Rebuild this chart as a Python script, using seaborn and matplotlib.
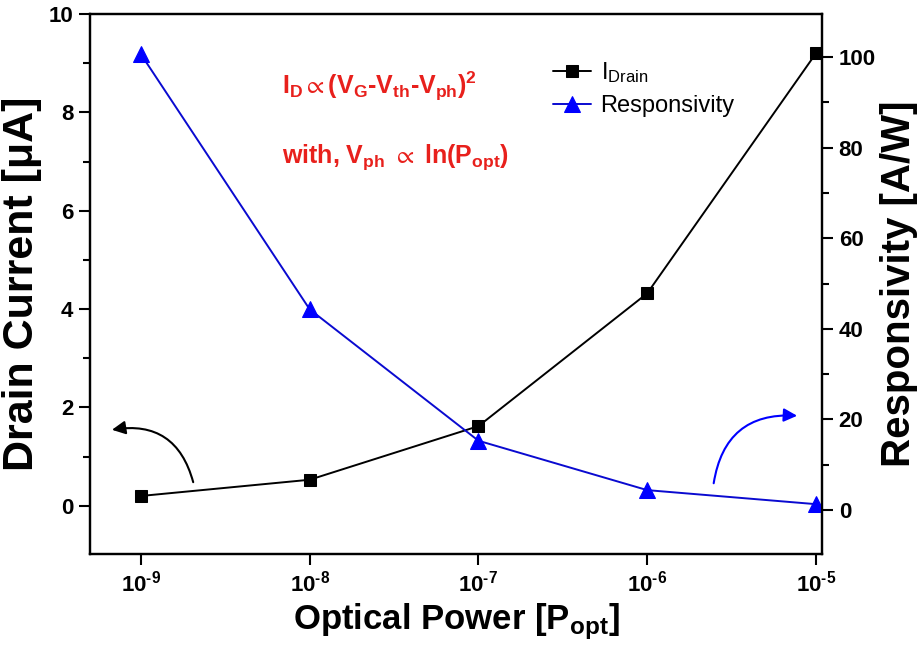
import numpy as np
import pandas as pd
import matplotlib
matplotlib.use("Agg")
import matplotlib.pyplot as plt
import seaborn as sns
from matplotlib import font_manager
from matplotlib.ticker import MultipleLocator, NullLocator, FixedLocator

# ---- data ----
optical_power = [1e-9, 1e-8, 1e-7, 1e-6, 1e-5]
drain_current = [0.20, 0.53, 1.62, 4.32, 9.20]
responsivity = [100.6, 44.3, 15.3, 4.4, 1.3]
left_ticks = [0, 2, 4, 6, 8, 10]
right_ticks = [0, 20, 40, 60, 80, 100]
x_ticks = [1e-9, 1e-8, 1e-7, 1e-6, 1e-5]

sns.set_style("ticks")

def has_font(name):
    try:
        font_manager.findfont(font_manager.FontProperties(family=name), fallback_to_default=False)
        return True
    except Exception:
        return False

NARROW = "Liberation Sans Narrow" if has_font("Liberation Sans Narrow") else "Liberation Sans"
plt.rcParams["font.family"] = ["Liberation Sans", "DejaVu Sans"]
plt.rcParams["mathtext.fontset"] = "custom"
plt.rcParams["mathtext.rm"] = "Liberation Sans"
plt.rcParams["mathtext.it"] = "Liberation Sans"
plt.rcParams["mathtext.bf"] = "Liberation Sans:bold"
plt.rcParams["axes.unicode_minus"] = False
for k in ["text.color", "axes.labelcolor", "xtick.color", "ytick.color", "axes.edgecolor"]:
    plt.rcParams[k] = "black"

df1 = pd.DataFrame({"P": optical_power, "I": drain_current})
df2 = pd.DataFrame({"P": optical_power, "R": responsivity})

fig = plt.figure(figsize=(9.23, 6.51), dpi=100)
ax = fig.add_axes([0.0975, 0.149, 0.7931, 0.8295])
ax2 = ax.twinx()

sns.lineplot(data=df1, x="P", y="I", ax=ax, color="black", marker="s", markersize=9,
             markeredgecolor="black", linewidth=1.4, label=r"I$\mathregular{_{Drain}}$", legend=False)
sns.lineplot(data=df2, x="P", y="R", ax=ax2, color="#0a0ad0", marker="^", markersize=11,
             markerfacecolor="#0000ff", markeredgecolor="#0000ff", linewidth=1.4,
             label="Responsivity", legend=False)

ax.set_xscale("log")
ax.set_xlim(10 ** -9.302, 10 ** -4.964)
ax.set_ylim(-0.98, 10)
ax2.set_ylim(-9.7, 109.5)

ax.xaxis.set_major_locator(FixedLocator(x_ticks))
ax.xaxis.set_minor_locator(NullLocator())
ax.set_xticklabels(["10$^{\\mathregular{\u2010%d}}$" % abs(int(np.log10(v))) for v in x_ticks])
ax.yaxis.set_major_locator(FixedLocator(left_ticks))
ax.yaxis.set_minor_locator(MultipleLocator(1))
ax2.yaxis.set_major_locator(FixedLocator(right_ticks))
ax2.yaxis.set_minor_locator(MultipleLocator(10))

for a in (ax, ax2):
    for s in a.spines.values():
        s.set_linewidth(1.6)
        s.set_visible(True)
        s.set_color("black")
    a.tick_params(which="major", length=8, width=1.5, direction="out", labelsize=16, pad=4,
                  colors="black")
    a.tick_params(which="minor", length=5, width=1.5, direction="out", colors="black")
    for lab in a.get_xticklabels() + a.get_yticklabels():
        lab.set_fontfamily(NARROW)
        lab.set_fontweight("bold")

ax.set_xlabel(r"Optical Power [P$\mathregular{_{opt}}$]", fontsize=25, fontweight="bold",
              family=NARROW, labelpad=3, color="black")
ax.set_ylabel("Drain Current [\u03bcA]", fontsize=31, fontweight="bold", labelpad=5, color="black")
ax2.set_ylabel("Responsivity [A/W]", fontsize=29, fontweight="bold", labelpad=3, color="black")

plt.rcParams["mathtext.rm"] = "%s:bold" % NARROW
red = "#e8201c"
ax.text(0.262, 0.865, r"I$\mathregular{_D}$$\mathregular{\propto}$(V$\mathregular{_G}$-V$\mathregular{_{th}}$-V$\mathregular{_{ph}}$)$\mathregular{^2}$",
        transform=ax.transAxes, color=red, fontsize=18, fontweight="bold", family=NARROW,
        ha="left", va="center")
ax.text(0.262, 0.735, r"with, V$\mathregular{_{ph}}$ $\mathregular{\propto}$ ln(P$\mathregular{_{opt}}$)",
        transform=ax.transAxes, color=red, fontsize=18, fontweight="bold", family=NARROW,
        ha="left", va="center")

h1, l1 = ax.get_legend_handles_labels()
h2, l2 = ax2.get_legend_handles_labels()
leg = ax2.legend(h1 + h2, l1 + l2, loc="upper left", bbox_to_anchor=(0.633, 0.915),
                 frameon=False, fontsize=17, handlelength=1.6, handletextpad=0.4,
                 borderpad=0, borderaxespad=0, labelspacing=0.45)
for t in leg.get_texts():
    t.set_color("black")

ax.annotate("", xy=(0.030, 0.230), xytext=(0.141, 0.133), xycoords="axes fraction",
            arrowprops=dict(arrowstyle="-|>", color="black", lw=1.5, mutation_scale=20,
                            connectionstyle="arc3,rad=0.45", shrinkA=0, shrinkB=0))
ax.annotate("", xy=(0.966, 0.256), xytext=(0.852, 0.131), xycoords="axes fraction",
            arrowprops=dict(arrowstyle="-|>", color="#0000ff", lw=1.5, mutation_scale=20,
                            connectionstyle="arc3,rad=-0.45", shrinkA=0, shrinkB=0))

fig.savefig("out.png", dpi=100)
